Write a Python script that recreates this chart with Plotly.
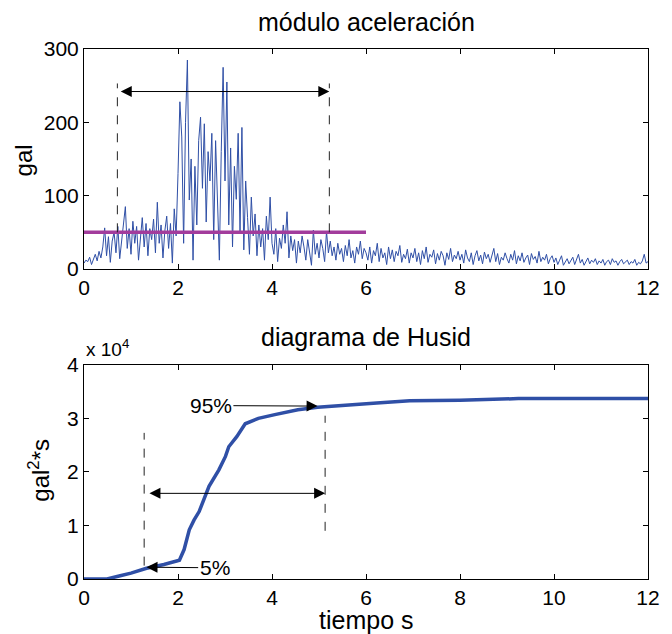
import plotly.graph_objects as go

# ---------------- data ----------------
dt = 0.04
accel = [
    8, 12, 10, 16, 6, 14, 20, 11, 24, 15, 30, 56, 18, 44, 9, 38, 50, 22, 58, 14, 40, 62, 85, 28, 55,
    20, 65, 35, 58, 12, 48, 70, 30, 62, 18, 55, 40, 68, 22, 91, 35, 60, 15, 52, 72, 28, 62, 8, 82, 45,
    130, 228, 180, 35, 200, 285, 94, 150, 12, 140, 60, 175, 207, 110, 198, 64, 160, 120, 185, 40, 175, 90, 12, 160, 275,
    120, 255, 60, 165, 30, 140, 95, 185, 50, 193, 26, 120, 70, 20, 98, 45, 75, 18, 60, 30, 55, 12, 72, 40, 98,
    35, 20, 55, 10, 42, 28, 60, 35, 78, 15, 45, 25, 40, 8, 38, 22, 45, 30, 12, 40, 25, 5, 53, 20, 35,
    15, 40, 28, 10, 51, 22, 38, 18, 30, 12, 35, 20, 28, 10, 32, 18, 40, 15, 25, 8, 30, 20, 38, 14, 28,
    22, 12, 30, 8, 25, 18, 35, 10, 28, 15, 22, 6, 30, 14, 26, 10, 24, 18, 32, 9, 20, 14, 27, 8, 22,
    15, 28, 10, 22, 6, 25, 14, 30, 9, 20, 16, 26, 7, 21, 12, 24, 18, 5, 22, 13, 28, 10, 19, 14, 24,
    12, 20, 8, 26, 15, 10, 22, 6, 18, 25, 11, 19, 7, 23, 14, 20, 9, 17, 28, 10, 21, 6, 16, 12, 22,
    14, 8, 20, 12, 25, 7, 18, 11, 22, 9, 15, 19, 6, 21, 13, 17, 8, 24, 10, 16, 12, 20, 7, 14, 18,
    9, 15, 6, 12, 18, 5, 10, 14, 7, 11, 16, 6, 12, 20, 8, 13, 5, 10, 15, 7, 12, 9, 14, 6, 11,
    8, 13, 5, 10, 12, 6, 14, 9, 11, 5, 10, 13, 7, 9, 12, 6, 10, 8, 13, 5, 9, 7, 11, 20, 8,
    10,
]
time_acc = [round(i * dt, 2) for i in range(len(accel))]

threshold_t = [0, 6]
threshold_v = [50, 50]

husid_t = [0, 0.49, 0.77, 1.0, 1.33, 1.7, 2.03, 2.13, 2.24, 2.34, 2.45, 2.66, 2.87, 3.01,
           3.08, 3.25, 3.43, 3.71, 4.06, 4.55, 4.97, 5.5, 6.23, 6.93, 8.0, 9.24, 12.0]
husid_v = [0, 0, 600, 1100, 2000, 2700, 3500, 5500, 9200, 11000, 12600, 17300, 20400, 22900,
           24700, 26600, 29000, 30000, 30700, 31600, 32100, 32500, 32900, 33300, 33400, 33700, 33700]

t5, t95 = 0.71, 5.22        # top plot bracket
h5, h95 = 1.28, 5.13        # bottom plot bracket

xticks = [0, 2, 4, 6, 8, 10, 12]
yticks_top = [0, 100, 200, 300]
yticks_bot = [0, 10000, 20000, 30000, 40000]
yticks_bot_txt = ["0", "1", "2", "3", "4"]

# ---------------- figure ----------------
BLUE = "#2f4fa6"
MAG = "#a23c9c"
FONT = "Liberation Sans, Arial, sans-serif"

fig = go.Figure()
fig.add_trace(go.Scatter(x=time_acc, y=accel, mode="lines",
                         line=dict(color=BLUE, width=1), xaxis="x", yaxis="y"))
fig.add_trace(go.Scatter(x=threshold_t, y=threshold_v, mode="lines",
                         line=dict(color=MAG, width=3.5), xaxis="x", yaxis="y"))
fig.add_trace(go.Scatter(x=husid_t, y=husid_v, mode="lines",
                         line=dict(color=BLUE, width=3.5), xaxis="x2", yaxis="y2"))

axis_common = dict(showgrid=False, zeroline=False, showline=True, linecolor="black",
                   linewidth=1, mirror="ticks", ticks="inside", ticklen=5,
                   tickcolor="black", tickfont=dict(size=21, color="black", family=FONT))

fig.update_layout(
    width=664, height=626,
    margin=dict(l=76, r=16, t=41, b=55),
    paper_bgcolor="white", plot_bgcolor="white",
    showlegend=False,
    font=dict(family=FONT, color="black"),
    xaxis=dict(domain=[0, 1], anchor="y", range=[0, 12], tickvals=xticks, **axis_common),
    yaxis=dict(domain=[0.585, 1], anchor="x", range=[0, 300], tickvals=yticks_top, **axis_common),
    xaxis2=dict(domain=[0, 1], anchor="y2", range=[0, 12], tickvals=xticks, **axis_common),
    yaxis2=dict(domain=[0, 0.404], anchor="x2", range=[0, 40000], tickvals=yticks_bot,
                ticktext=yticks_bot_txt, **axis_common),
)

dash = dict(color="#222222", width=1, dash="dash")
fig.add_shape(type="line", xref="x", yref="y", x0=t5, x1=t5, y0=50, y1=253, line=dash)
fig.add_shape(type="line", xref="x", yref="y", x0=t95, x1=t95, y0=50, y1=253, line=dash)
fig.add_shape(type="line", xref="x2", yref="y2", x0=h5, x1=h5, y0=2500, y1=27300, line=dash)
fig.add_shape(type="line", xref="x2", yref="y2", x0=h95, x1=h95, y0=9000, y1=30500, line=dash)

arrow = dict(showarrow=True, arrowhead=2, arrowsize=2.2, arrowwidth=1, arrowcolor="black",
             standoff=0, startstandoff=0)

fig.add_annotation(x=t95, y=242, ax=t5 + 0.04, ay=242, xref="x", yref="y", axref="x", ayref="y",
                   text="", arrowside="end+start", startarrowhead=2, startarrowsize=2.2, **arrow)
fig.add_annotation(x=h95, y=16000, ax=h5 + 0.08, ay=16000, xref="x2", yref="y2", axref="x2", ayref="y2",
                   text="", arrowside="end+start", startarrowhead=2, startarrowsize=2.2, **arrow)
fig.add_annotation(x=4.97, y=32300, ax=2.7, ay=32400, xref="x2", yref="y2", axref="x2", ayref="y2",
                   text="95%", font=dict(size=21, family=FONT), **arrow)
fig.add_annotation(x=1.33, y=2200, ax=2.78, ay=2100, xref="x2", yref="y2", axref="x2", ayref="y2",
                   text="5%", font=dict(size=21, family=FONT), **arrow)

def ann(text, x, y, size, xanchor="center", **kw):
    fig.add_annotation(text=text, x=x, y=y, xref="paper", yref="paper", showarrow=False,
                       xanchor=xanchor, yanchor="middle",
                       font=dict(size=size, family=FONT, color="black"), **kw)

ann("módulo aceleración", 0.5, 1.05, 25)
ann("diagrama de Husid", 0.5, 0.4566, 25)
ann("x 10<sup>4</sup>", 0.0, 0.436, 19, xanchor="left")
ann("tiempo s", 0.5, -0.077, 25)
ann("gal", -0.108, 0.79, 24, textangle=-90)
ann("gal<sup>2</sup>*s", -0.080, 0.206, 24, textangle=-90)

fig.write_html("out.html")
